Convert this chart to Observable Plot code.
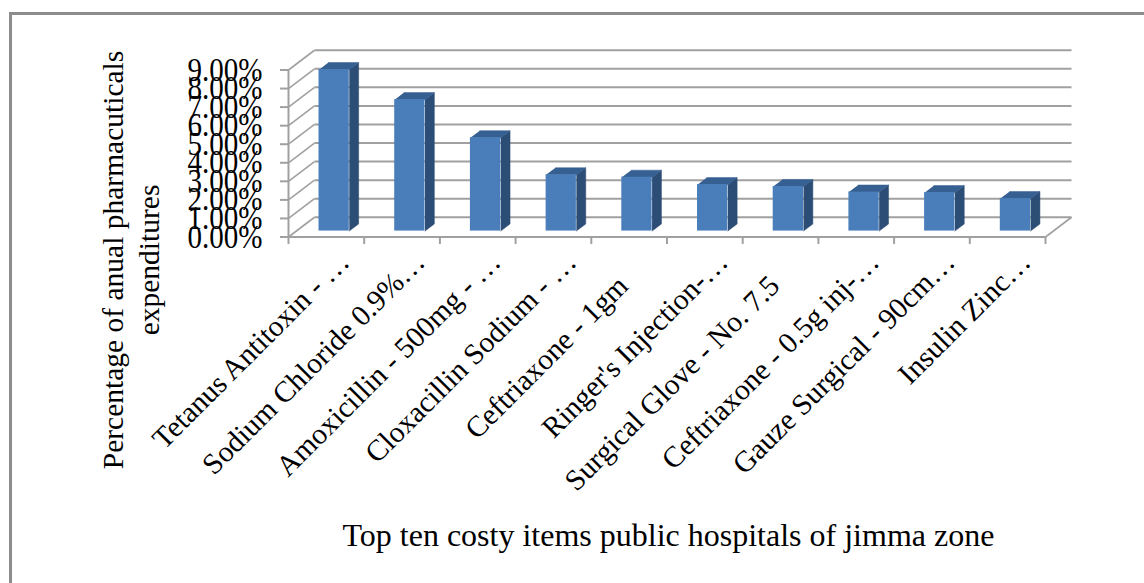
<!DOCTYPE html>
<html>
<head>
<meta charset="utf-8">
<script src="https://cdn.jsdelivr.net/npm/d3@7"></script>
<script src="https://cdn.jsdelivr.net/npm/@observablehq/plot@0.6"></script>
<style>
  html, body { margin: 0; padding: 0; background: #fff; }
  #chart { position: relative; width: 1144px; height: 583px; overflow: hidden; }
  #chart svg { position: absolute; left: 0; top: 0; }
  #border { position: absolute; left: 9px; top: 12px; width: 1140px; height: 580px; border: 3px solid #8c8c8c; }
</style>
</head>
<body>
<div id="chart"><div id="border"></div></div>
<script>
// Top ten items by share of annual pharmaceutical spending
const items = [
  "Tetanus Antitoxin - …",
  "Sodium Chloride 0.9%…",
  "Amoxicillin - 500mg - …",
  "Cloxacillin Sodium - …",
  "Ceftriaxone - 1gm",
  "Ringer's Injection-…",
  "Surgical Glove - No. 7.5",
  "Ceftriaxone - 0.5g inj-…",
  "Gauze Surgical - 90cm…",
  "Insulin Zinc…"
];
const shares = [8.7, 7.08, 5.03, 3.03, 2.9, 2.5, 2.4, 2.1, 2.07, 1.75];
const yTicks = [0, 1, 2, 3, 4, 5, 6, 7, 8, 9];

const yTitle = "Percentage of anual pharmacuticals\nexpenditures";
const xTitle = "Top ten costy items public hospitals of jimma zone";

const serif = "'Liberation Serif', 'Times New Roman', serif";
const gridColor = "#a0a0a0";

// Oblique depth of the plot box, in scale units (x: categories, y: percent)
const depthX = 26 / 75.7;
const depthY = 19.7 / 18.5;
const project = (cat, val, depth) => ({x: cat + depth * depthX, y: val + depth * depthY});

// Bar footprint inside its category slot and inside the depth of the box
const barLeft = 0.30, barRight = 0.70, barNear = 0.3, barFar = 0.66;

const faces = items.flatMap((name, i) => {
  const v = shares[i];
  const corners = (pts, face) => pts.map(([c, h, d]) => ({...project(i + c, h, d), id: `${i}-${face}`, face}));
  return [
    ...corners([[barRight, 0, barNear], [barRight, 0, barFar], [barRight, v, barFar], [barRight, v, barNear]], "side"),
    ...corners([[barLeft, v, barNear], [barRight, v, barNear], [barRight, v, barFar], [barLeft, v, barFar]], "top")
  ];
});
const fronts = items.map((name, i) => {
  const a = project(i + barLeft, 0, barNear);
  const b = project(i + barRight, shares[i], barNear);
  return {x1: a.x, x2: b.x, y1: a.y, y2: b.y};
});

const slots = d3.range(items.length + 1);

// Truncated names run on past their slot centre by the width of the ellipsis
const truncated = d => d.endsWith("…");

const plot = Plot.plot({
  width: 1144,
  height: 583,
  marginLeft: 288,
  marginRight: 99,
  marginTop: 69.5,
  marginBottom: 346.5,
  style: {background: "transparent", overflow: "visible"},
  x: {type: "linear", domain: [0, items.length], axis: null},
  y: {type: "linear", domain: [0, 9], axis: null},
  marks: [
    // Back wall gridlines
    Plot.link(yTicks, {
      x1: () => project(0, 0, 1).x,
      x2: () => project(items.length, 0, 1).x,
      y1: d => project(0, d, 1).y,
      y2: d => project(0, d, 1).y,
      stroke: gridColor, strokeWidth: 2
    }),
    // Left wall gridlines
    Plot.link(yTicks, {
      x1: () => 0, x2: () => project(0, 0, 1).x,
      y1: d => d, y2: d => project(0, d, 1).y,
      stroke: gridColor, strokeWidth: 1.6
    }),
    // Floor edge on the right
    Plot.link([0], {
      x1: () => items.length, x2: () => project(items.length, 0, 1).x,
      y1: () => 0, y2: () => project(0, 0, 1).y,
      stroke: gridColor, strokeWidth: 1.6
    }),
    // Front axis lines
    Plot.ruleY([0], {stroke: gridColor, strokeWidth: 2}),
    Plot.ruleX([0], {y1: 0, y2: 9, stroke: gridColor, strokeWidth: 2}),
    // Bars: side and top faces, then the front face
    Plot.line(faces.filter(d => d.face === "side"), {x: "x", y: "y", z: "id", fill: "#2c4d75", stroke: "#2c4d75", strokeWidth: 0.5}),
    Plot.line(faces.filter(d => d.face === "top"), {x: "x", y: "y", z: "id", fill: "#376092", stroke: "#376092", strokeWidth: 0.5}),
    Plot.rect(fronts, {x1: "x1", x2: "x2", y1: "y1", y2: "y2", fill: "#4a7ebb"}),
    // Axes
    Plot.axisY(yTicks, {
      anchor: "left", tickSize: 8, tickPadding: 18, stroke: gridColor, strokeWidth: 2,
      tickFormat: d => d.toFixed(2) + "%", fontSize: 33, fontFamily: serif, fill: "#000", label: null
    }),
    Plot.ruleX(slots, {x: d => d, y1: 0, y2: -0.4, stroke: gridColor, strokeWidth: 2}),
    Plot.text(items, {
      x: (d, i) => i + 0.5 + (truncated(d) ? 0.317 : 0),
      y: d => (truncated(d) ? 1.3 : 0),
      text: d => d,
      rotate: -45, textAnchor: "end", lineAnchor: "middle",
      dx: -6, dy: 44, fontSize: 29.5, fontFamily: serif, fill: "#000"
    }),
    // Axis titles
    Plot.text([yTitle], {
      frameAnchor: "top-left", rotate: -90, text: d => d, textAnchor: "middle", lineAnchor: "middle",
      dx: -159, dy: 190, fontSize: 29.5, lineHeight: 1.2, fontFamily: serif, fill: "#000"
    }),
    Plot.text([xTitle], {
      frameAnchor: "bottom-left", text: d => d, textAnchor: "start", lineAnchor: "middle",
      dx: 54, dy: 299, fontSize: 32, fontFamily: serif, fill: "#000"
    })
  ]
});
document.getElementById("chart").appendChild(plot);

// The percent labels are tall and narrow: squeeze them horizontally to a fixed run
d3.select(plot).selectAll("text").filter(function () {
  return /^\d\.00%$/.test(this.textContent);
}).attr("textLength", 75).attr("lengthAdjust", "spacingAndGlyphs");
</script>
</body>
</html>
